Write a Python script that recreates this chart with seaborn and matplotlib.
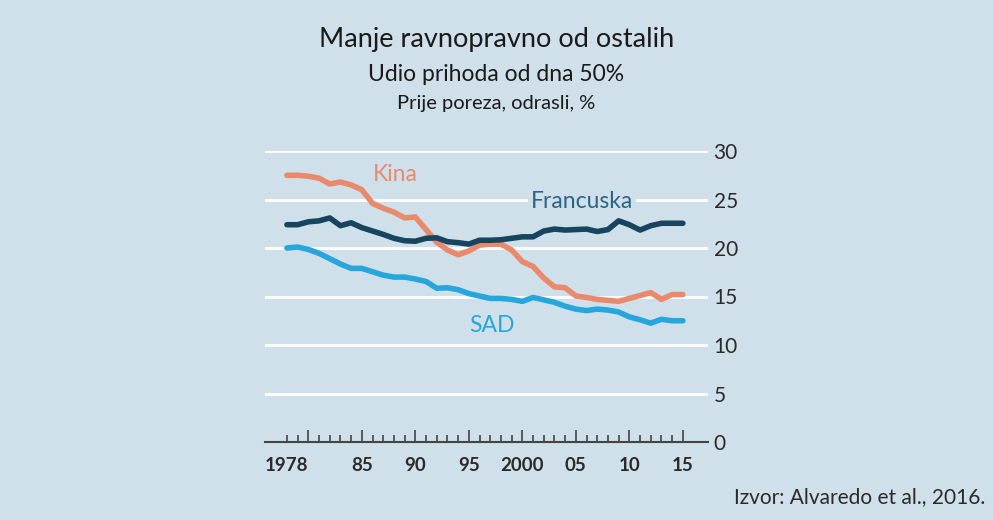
import pandas as pd
import matplotlib.pyplot as plt
import seaborn as sns

# godine i udio prihoda donjih 50% (prije poreza, odrasli, %)
godine = list(range(1978, 2016))
kina = [27.5, 27.5, 27.4, 27.2, 26.6, 26.8, 26.5, 26.0, 24.6, 24.1, 23.7, 23.1, 23.2,
        21.9, 20.6, 19.8, 19.3, 19.7, 20.3, 20.4, 20.4, 19.8, 18.6, 18.1, 16.9, 16.0,
        15.9, 15.05, 14.9, 14.7, 14.6, 14.5, 14.8, 15.1, 15.4, 14.7, 15.2, 15.2]
francuska = [22.4, 22.4, 22.7, 22.8, 23.1, 22.3, 22.6, 22.1, 21.75, 21.4, 21.0, 20.75,
             20.7, 21.0, 21.05, 20.65, 20.55, 20.4, 20.8, 20.8, 20.85, 21.0, 21.15, 21.15,
             21.75, 21.95, 21.85, 21.9, 21.95, 21.7, 21.9, 22.8, 22.4, 21.85, 22.3, 22.55,
             22.55, 22.55]
sad = [20.0, 20.1, 19.85, 19.45, 18.9, 18.35, 17.9, 17.9, 17.55, 17.2, 17.0, 17.0, 16.8,
       16.55, 15.85, 15.9, 15.7, 15.3, 15.05, 14.8, 14.8, 14.7, 14.5, 14.9, 14.65, 14.4,
       14.0, 13.7, 13.55, 13.7, 13.6, 13.4, 12.9, 12.6, 12.25, 12.65, 12.5, 12.5]

oznake_x = [1978, 1985, 1990, 1995, 2000, 2005, 2010, 2015]
tekst_x = ['1978', '85', '90', '95', '2000', '05', '10', '15']
oznake_y = [0, 5, 10, 15, 20, 25, 30]

boje = {'Kina': '#e98a6c', 'Francuska': '#17455f', 'SAD': '#27a6dc'}
pozadina = '#cfe0ea'

df = pd.concat([
    pd.DataFrame({'godina': godine, 'udio': kina, 'zemlja': 'Kina'}),
    pd.DataFrame({'godina': godine, 'udio': francuska, 'zemlja': 'Francuska'}),
    pd.DataFrame({'godina': godine, 'udio': sad, 'zemlja': 'SAD'}),
])

sns.set_style('white')
plt.rcParams['font.family'] = ['Lato', 'DejaVu Sans']

fig = plt.figure(figsize=(9.93, 5.2), dpi=100, facecolor=pozadina)
ax = fig.add_axes([265 / 993, 78 / 520, 443 / 993, 291 / 520])
ax.set_facecolor(pozadina)

# bijele linije mreže
for v in oznake_y[1:]:
    ax.axhline(v, color='white', lw=2, zorder=1)

sns.lineplot(data=df, x='godina', y='udio', hue='zemlja', palette=boje,
             linewidth=4, legend=False, ax=ax, zorder=3)

ax.set_xlim(1975.95, 2017.35)
ax.set_ylim(0, 30)
for s in ['top', 'right', 'left']:
    ax.spines[s].set_visible(False)
ax.spines['bottom'].set_color('#444444')
ax.spines['bottom'].set_linewidth(1.5)

# kvačice: svaka godina kratko, svakih 5 dulje
ax.set_xticks(list(range(1980, 2016, 5)))
ax.set_xticks(godine, minor=True)
ax.tick_params(axis='x', which='major', direction='in', length=9, width=1.2,
               color='#444444', bottom=True, labelbottom=False)
ax.tick_params(axis='x', which='minor', direction='in', length=5, width=1.2,
               color='#444444', bottom=True)

sec = ax.secondary_xaxis('bottom')
sec.set_xticks(oznake_x)
sec.set_xticklabels(tekst_x)
sec.tick_params(length=0, pad=11, labelsize=13.5, labelcolor='#2a2a2a')
for t in sec.get_xticklabels():
    t.set_fontweight('bold')
sec.spines['bottom'].set_visible(False)

ax.yaxis.tick_right()
ax.set_yticks(oznake_y)
ax.tick_params(axis='y', length=0, pad=4, labelsize=15, labelcolor='#2a2a2a')
ax.set_xlabel('')
ax.set_ylabel('')

# oznake serija
ax.text(1988.1, 27.6, 'Kina', color=boje['Kina'], fontsize=16.5, ha='center', va='center')
ax.text(2005.6, 24.8, 'Francuska', color='#2a6585', fontsize=16.5, ha='center', va='center',
        bbox=dict(facecolor=pozadina, edgecolor='none', pad=2))
ax.text(1997.2, 12.0, 'SAD', color=boje['SAD'], fontsize=16.5, ha='center', va='center')

fig.text(0.5, 1 - 40 / 520, 'Manje ravnopravno od ostalih', ha='center', va='center',
         fontsize=19.5, color='#1a1a1a')
fig.text(0.5, 1 - 75 / 520, 'Udio prihoda od dna 50%', ha='center', va='center',
         fontsize=16.5, color='#1a1a1a')
fig.text(0.5, 1 - 103 / 520, 'Prije poreza, odrasli, %', ha='center', va='center',
         fontsize=14.5, color='#1a1a1a')
fig.text(985 / 993, 1 - 497 / 520, 'Izvor: Alvaredo et al., 2016.', ha='right', va='center',
         fontsize=15, color='#2a2a2a')

fig.savefig('out.png', dpi=100, facecolor=pozadina)
